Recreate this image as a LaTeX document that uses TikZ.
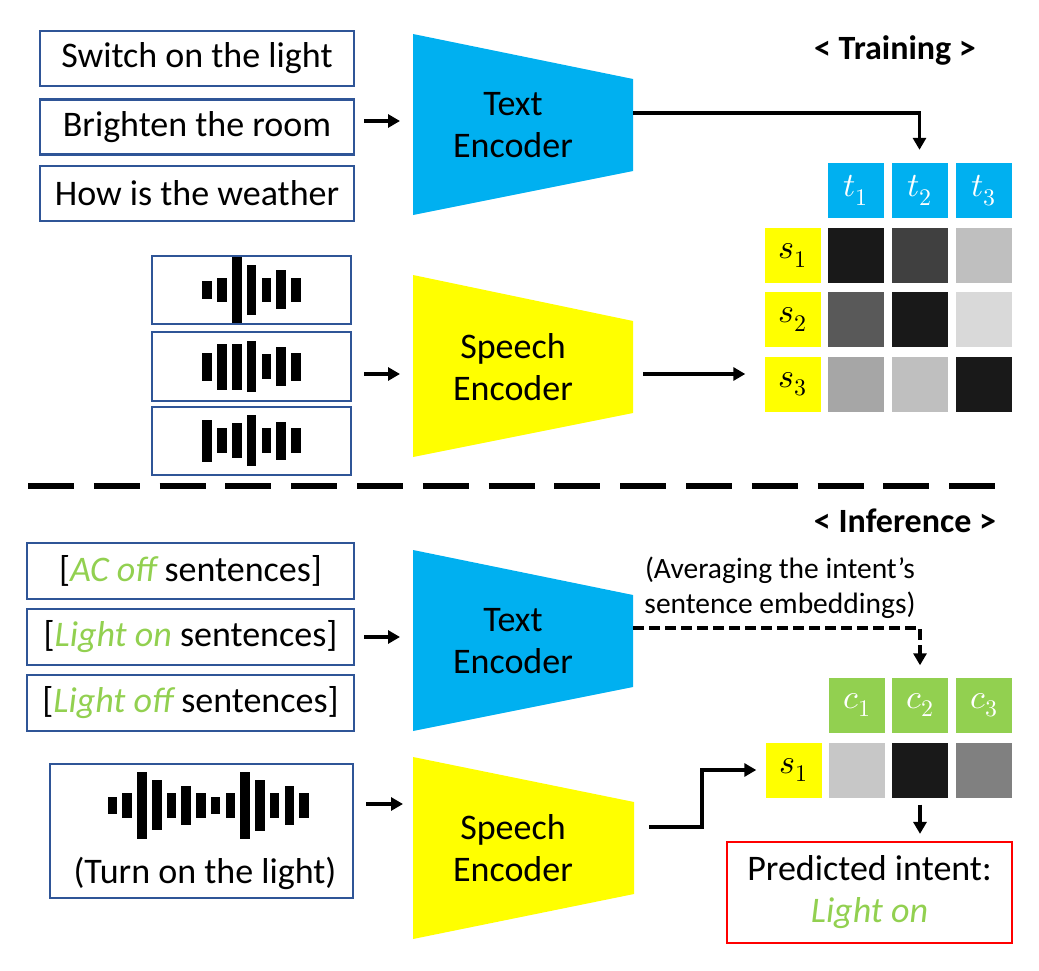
\documentclass[tikz,border=0pt]{standalone}
\usepackage{fontspec}
\usepackage{unicode-math}
\setmainfont{Carlito}
\setmathfont{Latin Modern Math}
\usepackage{tikz}
\usetikzlibrary{arrows.meta,positioning,calc}
\definecolor{encblue}{HTML}{00B0F0}
\definecolor{encyellow}{HTML}{FFFF00}
\definecolor{intgreen}{HTML}{92D050}
\definecolor{boxblue}{HTML}{2F5597}
\tikzset{
  sentbox/.style={draw=boxblue, line width=2.2pt, rectangle, inner sep=0pt, font=\fontsize{36}{43}\selectfont},
  wavebox/.style={draw=boxblue, line width=2.2pt, rectangle, inner sep=0pt},
  enclabel/.style={align=center, font=\fontsize{36}{42}\selectfont},
  cell/.style={rectangle, minimum width=56pt, minimum height=55pt, inner sep=0pt, font=\fontsize{34}{38}\selectfont},
  arr/.style={-{Triangle[length=12pt,width=13pt]}, line width=3.3pt},
  dasharr/.style={-{Triangle[length=12pt,width=13pt]}, line width=3.3pt, dash pattern=on 11pt off 5pt},
  phaselabel/.style={font=\fontsize{34}{40}\selectfont\bfseries},
}
\newcommand{\wavebars}[4]{%
  \foreach \h [count=\i from 0] in {#4} {
    \fill ({#1+#3*\i},{#2-\h}) rectangle ++(9.6,{2*\h});
  }}

\begin{document}
\begin{tikzpicture}[x=1pt,y=-1pt]
  \useasboundingbox (0,0) rectangle (1039,971);

  % training
  \node[phaselabel] (trainlbl) at (895,50) {< Training >};

  \node[sentbox, minimum width=314pt, minimum height=55pt] (sent1) at (197,58.5) {Switch on the light};
  \node[sentbox, minimum width=314pt, minimum height=55pt] (sent2) at (197,127) {Brighten the room};
  \node[sentbox, minimum width=314pt, minimum height=55pt] (sent3) at (197,193.5) {How is the weather};

  \fill[encblue] (413,34) -- (633,79) -- (633,171) -- (413,215) -- cycle;
  \node[enclabel] (tenc1) at (513,125) {Text\\Encoder};
  \coordinate (tenc1in) at (413,121);
  \coordinate (tenc1out) at (633,113);

  \node[wavebox, minimum width=199pt, minimum height=68pt] (wave1) at (251.5,290) {};
  \node[wavebox, minimum width=199pt, minimum height=69pt] (wave2) at (251.5,366.5) {};
  \node[wavebox, minimum width=199pt, minimum height=68pt] (wave3) at (251.5,441) {};
  \wavebars{202.3}{289.7}{14.8}{9.2,11.8,33,25,11.8,19.3,11.8}
  \wavebars{202.3}{366.8}{14.8}{13.8,23.3,23.3,25.5,12.5,19.5,13.8}
  \wavebars{202.3}{440.7}{14.8}{21,12.7,17.7,25.5,12.7,19.2,12.7}

  \fill[encyellow] (413,275) -- (633,321) -- (633,413) -- (413,457) -- cycle;
  \node[enclabel] (senc1) at (513,367) {Speech\\Encoder};
  \coordinate (senc1in) at (413,374);
  \coordinate (senc1out) at (643,374);

  \node[cell, fill=encblue, text=white] (t1) at (856,190.5) {$t_1$};
  \node[cell, fill=encblue, text=white] (t2) at (919.5,190.5) {$t_2$};
  \node[cell, fill=encblue, text=white] (t3) at (983.5,190.5) {$t_3$};
  \node[cell, fill=encyellow] (s1) at (792.5,255.5) {$s_1$};
  \node[cell, fill=encyellow] (s2) at (792.5,319.5) {$s_2$};
  \node[cell, fill=encyellow] (s3) at (792.5,384) {$s_3$};
  \node[cell, fill=black!90] (m11) at (856,255.5) {};
  \node[cell, fill=black!75] (m12) at (919.5,255.5) {};
  \node[cell, fill=black!25] (m13) at (983.5,255.5) {};
  \node[cell, fill=black!65] (m21) at (856,319.5) {};
  \node[cell, fill=black!90] (m22) at (919.5,319.5) {};
  \node[cell, fill=black!15] (m23) at (983.5,319.5) {};
  \node[cell, fill=black!35] (m31) at (856,384) {};
  \node[cell, fill=black!25] (m32) at (919.5,384) {};
  \node[cell, fill=black!90] (m33) at (983.5,384) {};

  \draw[arr, shorten <=9pt, shorten >=13pt] (sent2.east |- tenc1in) -- (tenc1in);
  \draw[arr, shorten <=12pt, shorten >=13pt] (wave2.east |- senc1in) -- (senc1in);
  \draw[arr, shorten >=13pt] (tenc1out) -| (t2.north);
  \draw[arr, shorten >=19pt] (senc1out) -- (senc1out -| s3.west);

  % separator
  \draw[line width=6pt, dash pattern=on 46pt off 19.8pt] (28,486) -- (1000,486);

  % inference
  \node[phaselabel] (inflbl) at (905,521) {< Inference >};

  \node[sentbox, minimum width=327pt, minimum height=56pt] (int1) at (190.5,571)
    {[\textcolor{intgreen}{\itshape AC off} sentences]};
  \node[sentbox, minimum width=327pt, minimum height=56pt] (int2) at (190.5,637)
    {[\textcolor{intgreen}{\itshape Light on} sentences]};
  \node[sentbox, minimum width=327pt, minimum height=56pt] (int3) at (190.5,703)
    {[\textcolor{intgreen}{\itshape Light off} sentences]};

  \fill[encblue] (413,550) -- (633,595) -- (633,687) -- (413,731) -- cycle;
  \node[enclabel] (tenc2) at (513,641) {Text\\Encoder};
  \coordinate (tenc2in) at (413,637);
  \coordinate (tenc2out) at (633,628);

  \node[align=center, font=\fontsize{29.5}{35}\selectfont] (avglbl) at (780,588)
    {(Averaging the intent’s\\sentence embeddings)};

  \node[wavebox, minimum width=303pt, minimum height=134pt] (wave4) at (201.5,831) {};
  \wavebars{107.7}{805.3}{14.74}{8.7,12.5,33.2,25,12.5,19.5,12.5,8.7,12.5,33.5,25.3,12.5,19.2,12.5}
  \node[font=\fontsize{36}{42}\selectfont] (turnlbl) at (205,873) {(Turn on the light)};

  \fill[encyellow] (413,757) -- (634,802) -- (634,894) -- (413,939) -- cycle;
  \node[enclabel] (senc2) at (513,848) {Speech\\Encoder};
  \coordinate (senc2in) at (413,804);
  \coordinate (senc2out) at (649,827);

  \node[cell, fill=intgreen, text=white] (c1) at (857,705) {$c_1$};
  \node[cell, fill=intgreen, text=white] (c2) at (920,705) {$c_2$};
  \node[cell, fill=intgreen, text=white] (c3) at (984,705) {$c_3$};
  \node[cell, fill=encyellow] (q1) at (793.5,770) {$s_1$};
  \node[cell, fill=black!22] (p1) at (857,770) {};
  \node[cell, fill=black!90] (p2) at (920,770) {};
  \node[cell, fill=black!50] (p3) at (984,770) {};

  \node[draw=red, line width=2.2pt, minimum width=285pt, minimum height=101pt, align=center,
    font=\fontsize{36}{42}\selectfont] (pred) at (869.5,892.5)
    {Predicted intent:\\\textcolor{intgreen}{\itshape Light on}};

  \draw[arr, shorten <=9pt, shorten >=13pt] (int2.east |- tenc2in) -- (tenc2in);
  \draw[arr, shorten <=12pt, shorten >=10pt] (wave4.east |- senc2in) -- (senc2in);
  \draw[dasharr, shorten >=12pt] (tenc2out) -| (c2.north);
  \draw[arr, shorten >=9pt] (senc2out) -- ++(53,0) |- (q1.west);
  \draw[arr, shorten <=7pt, shorten >=7pt] (p2.south) -- (pred.north -| p2.south);
\end{tikzpicture}
\end{document}
